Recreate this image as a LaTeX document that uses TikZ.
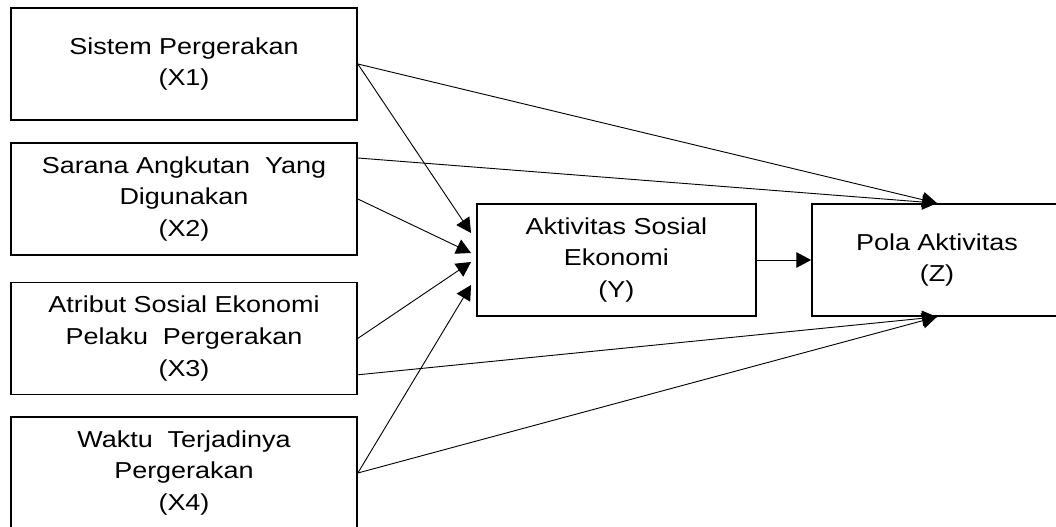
\documentclass[tikz,border=0pt]{standalone}
\usepackage{fontspec}
\setmainfont{Liberation Sans}[FakeStretch=1.17]
\usetikzlibrary{arrows.meta}

\begin{document}
\begin{tikzpicture}[
    box/.style = {draw, line width = 1.2pt, minimum width = 8.65cm, minimum height = 2.8cm,
        align = center, inner sep = 0pt, font = \fontsize{16.4}{22.7}\selectfont},
    link/.style = {line width = 0.65pt, -{Triangle[length = 10.5pt, width = 11pt]}}
]
    \clip (0,0) rectangle (26.4,13.15);
    % variabel bebas
    \node[box] (x1) at (4.6,11.55) {Sistem Pergerakan\\(X1)};
    \node[box] (x2) at (4.6,8.175) {Sarana Angkutan\ \ Yang\\Digunakan\\(X2)};
    \node[box] (x3) at (4.6,4.69) {Atribut Sosial Ekonomi\\Pelaku\ \ Pergerakan\\(X3)};
    \node[box] (x4) at (4.6,1.325) {Waktu\ \ Terjadinya\\Pergerakan\\(X4)};
    % variabel antara dan terikat
    \node[box, minimum width = 6.975cm] (y) at (15.41,6.65) {Aktivitas Sosial\\Ekonomi\\(Y)};
    \node[box, minimum width = 6.25cm] (z) at (23.425,6.65) {Pola Aktivitas\\(Z)};
    % titik ujung panah
    \coordinate (x2a) at ([yshift=1.025cm]x2.east);
    \coordinate (x3b) at ([yshift=-0.91cm]x3.east);
    \coordinate (y1) at ([shift={(-0.125,0.675)}]y.west);
    \coordinate (y2) at ([shift={(-0.125,0.175)}]y.west);
    \coordinate (y3) at ([shift={(-0.125,-0.05)}]y.west);
    \coordinate (y4) at ([shift={(-0.125,-0.625)}]y.west);
    % panah ke Y
    \draw[link] (x1.east) -- (y1);
    \draw[link] (x2.east) -- (y2);
    \draw[link] (x3.east) -- (y3);
    \draw[link] (x4.east) -- (y4);
    % panah ke Z
    \draw[link] (x1.east) -- (z.north);
    \draw[link] (x2a) -- (z.north);
    \draw[link] (x3b) -- (z.south);
    \draw[link] (x4.east) -- (z.south);
    \draw[link] (y.east) -- (z.west);
\end{tikzpicture}
\end{document}
